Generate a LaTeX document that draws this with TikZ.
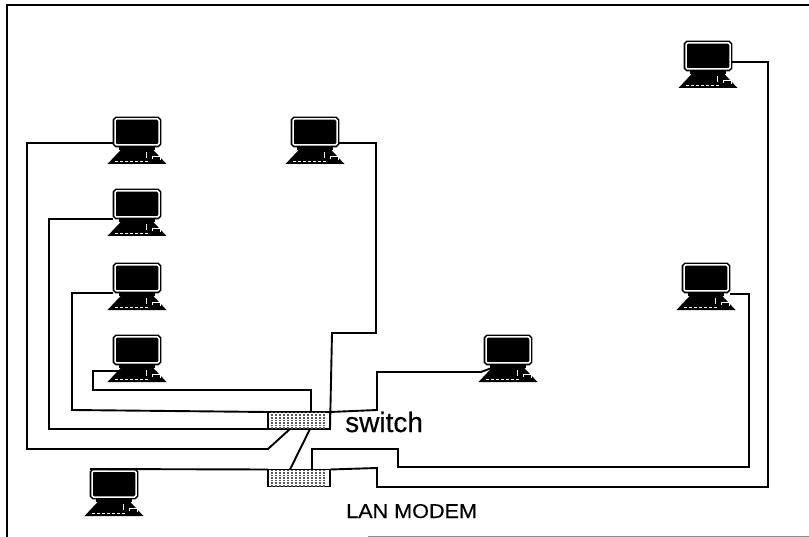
\documentclass[tikz,border=0pt]{standalone}
\usepackage{fontspec}
\setmainfont{Liberation Sans}
\newfontfamily\labelfont[FakeBold=0.4]{Liberation Sans}
\usetikzlibrary{positioning,shapes.geometric}
\tikzset{
 screen/.style={draw=black,line width=1.6pt,double=white,double distance=1.5pt,fill=black,minimum width=44pt,minimum height=26pt,inner sep=0pt,outer sep=2pt,rounded corners=1.5pt},
 keyb/.style={trapezium,trapezium stretches=true,trapezium left angle=68,trapezium right angle=68,fill=black,minimum width=59pt,minimum height=14pt,inner sep=1pt,outer sep=0pt},
 hub/.style={draw=black,line width=1.8pt,fill=white,minimum width=62pt,minimum height=17pt,inner sep=0pt,outer sep=0pt},
 wire/.style={line width=1.9pt,line join=miter},
 frameline/.style={line width=2.6pt,black}}
% one computer: screen, neck and keyboard
\newcommand{\pc}[3]{
 \node[screen] (#1) at (#2,#3) {};
 \node[keyb,below=3pt of #1] (#1k) {};
 \draw[line width=36pt] (#1.south) -- (#1k.north);
 \draw[white,line width=.8pt,dash pattern=on 3pt off 2pt] ([xshift=-22pt,yshift=3pt]#1k.south) -- ([xshift=12pt,yshift=3pt]#1k.south);
 \draw[white,line width=.9pt] ([xshift=9pt,yshift=-2pt]#1k.north) -- ([xshift=9pt,yshift=-8pt]#1k.north);
 \draw[white,line width=.9pt] ([xshift=15pt,yshift=-9pt]#1k.north) -- ([xshift=15pt,yshift=-6pt]#1k.north) -- ([xshift=23pt,yshift=-6pt]#1k.north) -- ([xshift=23pt,yshift=-10pt]#1k.north);
}
% switch and modem boxes with their dotted stripes
\newcommand{\hubbox}[3]{
 \node[hub] (#1) at (#2,#3) {};
 \foreach \i in {-27,-23,...,27}
  \draw[black!65,line width=1.7pt,dash pattern=on 1.6pt off 1pt] ([xshift=\i pt]#1.south) -- ([xshift=\i pt]#1.north);
}
\begin{document}
\begin{tikzpicture}[x=1pt,y=-1pt]
\useasboundingbox (0,0) rectangle (809,537);
\draw[frameline] (7,537) -- (7,5) -- (809,5);
\draw[line width=.8pt,black!45] (368,536) -- (809,536);
\pc{pca}{137}{132}
\pc{pcb}{137}{204}
\pc{pcc}{137}{278}
\pc{pcd}{137}{350}
\pc{pce}{315}{132}
\pc{pcf}{708}{56}
\pc{pcg}{706}{278}
\pc{pch}{508}{350}
\pc{pci}{114}{484}
\hubbox{sw}{299}{420.5}
\hubbox{modem}{299}{478}
\node[font=\labelfont\fontsize{28}{28}\selectfont,anchor=base west,inner sep=0pt] (swlabel) at (345,432) {switch};
\node[font=\labelfont\fontsize{20}{20}\selectfont,xscale=1.08,transform shape,anchor=base west,inner sep=0pt] (modemlabel) at (346,518) {LAN MODEM};
\draw[wire] ([yshift=4pt]pca.south west) -- (27,143) -- (27,449) -- (268,449) -- ([xshift=-9pt]sw.south);
\draw[wire] (pcb.south west) -- (49,219) -- (49,429) -- (sw.south west);
\draw[wire] (pcc.south west) -- (72,293) -- (72,410) -- (sw.north west);
\draw[wire] ([yshift=-3pt]pcdk.top left corner) -- (93,371) -- (93,390) -- (311,390) -- ([xshift=12pt]sw.north);
\draw[wire] (sw.north east) -- (377,410) -- (377,372) -- (481,372) -- (pchk.top left corner);
\draw[wire] ([yshift=4pt]pce.south east) -- (376,143) -- (376,333) -- (332,333) -- (sw.south east);
\draw[wire] (pci.north west) -- (modem.north west);
\draw[wire] ([xshift=-9pt]modem.north) -- ([xshift=11pt]sw.south);
\draw[wire] (modem.north east) -- (377,468) -- (377,487) -- (768,487) -- (768,62) -- ([yshift=9pt]pcf.south east);
\draw[wire] ([xshift=13pt]modem.north) -- (312,449) -- (398,449) -- (398,467) -- (749,467) -- (749,294) -- ([yshift=-1pt]pcg.south east);
\end{tikzpicture}
\end{document}
